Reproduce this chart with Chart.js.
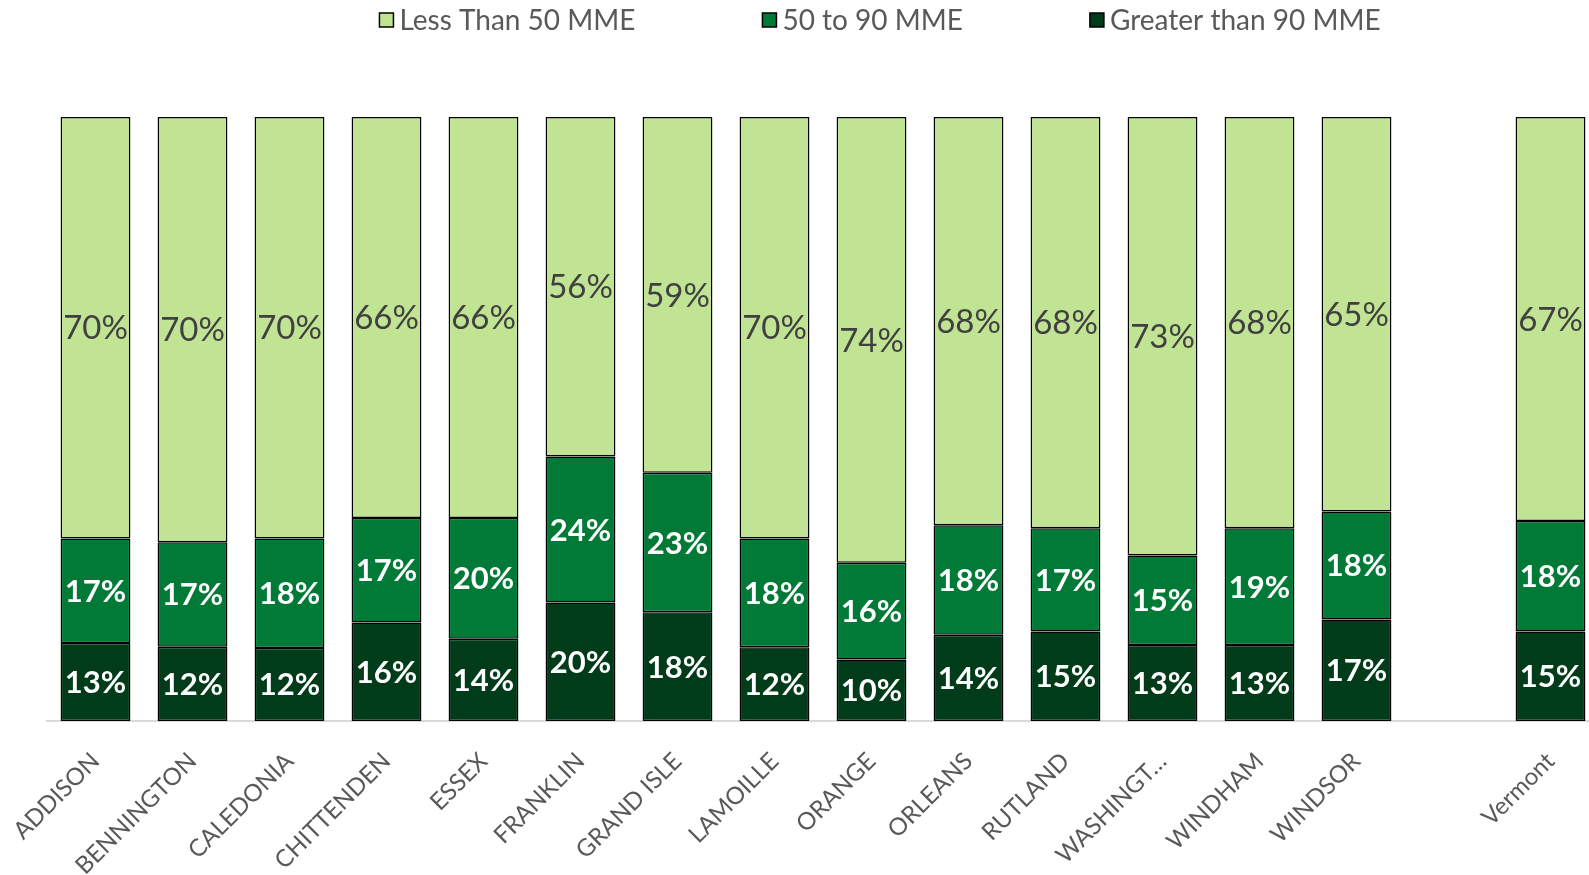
<!DOCTYPE html>
<html><head><meta charset="utf-8">
<script src="https://cdn.jsdelivr.net/npm/chart.js@4.4.1/dist/chart.umd.min.js"></script>
<style>html,body{margin:0;padding:0;background:#fff;overflow:hidden;} #wrap{width:1589px;height:875px;position:relative;}</style>
</head><body><div id="wrap"><canvas id="c"></canvas></div>
<script>
const categories = ['ADDISON','BENNINGTON','CALEDONIA','CHITTENDEN','ESSEX','FRANKLIN','GRAND ISLE','LAMOILLE','ORANGE','ORLEANS','RUTLAND','WASHINGT\u2026','WINDHAM','WINDSOR','','Vermont'];
const seriesNames = ['Greater than 90 MME','50 to 90 MME','Less Than 50 MME'];
const greaterThan90 = [12.9,12.3,12.1,16.3,13.6,19.6,18.0,12.2,10.2,14.3,14.8,12.6,12.6,16.8,null,14.8];
const from50to90    = [17.3,17.3,18.1,17.3,20.0,24.2,23.1,18.0,16.0,18.1,17.1,14.8,19.3,17.9,null,18.3];
const lessThan50    = [69.8,70.4,69.8,66.4,66.4,56.2,58.9,69.8,73.8,67.6,68.1,72.6,68.1,65.3,null,66.9];

const FONT = 'Lato, "DejaVu Sans", sans-serif';

// The plot area in the original runs slightly past the right edge of the image.
const extendRight = {
  id: 'extendRight',
  afterLayout(chart) {
    const s = chart.scales.x;
    s.right = chart.width + 10;
    s.width = s.right - s.left;
    s.configure();
  }
};

const labelPlugin = {
  id: 'segLabels',
  afterDatasetsDraw(chart) {
    const ctx = chart.ctx;
    chart.data.datasets.forEach((ds, i) => {
      const meta = chart.getDatasetMeta(i);
      meta.data.forEach((bar, j) => {
        const v = ds.data[j];
        if (v == null) return;
        const y = (bar.y + bar.base) / 2;
        ctx.save();
        ctx.font = ds.labelFont;
        ctx.fillStyle = ds.labelColor;
        ctx.textAlign = 'center';
        ctx.textBaseline = 'middle';
        ctx.fillText(Math.round(v) + '%', bar.x, y + 1);
        ctx.restore();
      });
    });
  }
};

const legendPlugin = {
  id: 'topLegend',
  afterDraw(chart) {
    const ctx = chart.ctx;
    const items = chart.data.datasets.slice().reverse();
    ctx.save();
    ctx.font = '28px ' + FONT;
    const box = 14, gap = 6, spacing = 127;
    const widths = items.map(d => box + gap + ctx.measureText(d.label).width);
    const total = widths.reduce((a, b) => a + b, 0) + spacing * (items.length - 1);
    let x = 880 - total / 2;
    const y = 20;
    items.forEach((d, k) => {
      ctx.fillStyle = d.backgroundColor;
      ctx.fillRect(x, y - box / 2, box, box);
      ctx.strokeStyle = '#000';
      ctx.lineWidth = 1.5;
      ctx.strokeRect(x, y - box / 2, box, box);
      ctx.fillStyle = '#595959';
      ctx.textAlign = 'left';
      ctx.textBaseline = 'middle';
      ctx.fillText(d.label, x + box + gap, y + 1);
      x += widths[k] + spacing;
    });
    ctx.restore();
  }
};

const colors = ['#003B1A', '#007A36', '#C1E394'];
const commonBar = { borderColor: '#000', borderWidth: 1.5, borderSkipped: false, barPercentage: 0.72, categoryPercentage: 1.0 };

new Chart(document.getElementById('c'), {
  type: 'bar',
  data: {
    labels: categories,
    datasets: [
      Object.assign({ label: seriesNames[0], data: greaterThan90, backgroundColor: colors[0], labelColor: '#ffffff', labelFont: 'bold 31px ' + FONT }, commonBar),
      Object.assign({ label: seriesNames[1], data: from50to90, backgroundColor: colors[1], labelColor: '#ffffff', labelFont: 'bold 31px ' + FONT }, commonBar),
      Object.assign({ label: seriesNames[2], data: lessThan50, backgroundColor: colors[2], labelColor: '#404040', labelFont: '33px ' + FONT }, commonBar)
    ]
  },
  options: {
    responsive: true,
    maintainAspectRatio: false,
    animation: false,
    layout: { padding: { top: 117, left: 47, right: 0, bottom: 0 } },
    plugins: { legend: { display: false }, tooltip: { enabled: false } },
    scales: {
      x: {
        stacked: true,
        grid: { display: false, drawTicks: false },
        border: { display: true, color: '#d9d9d9', width: 2 },
        ticks: { color: '#595959', font: { family: FONT, size: 24 }, minRotation: 45, maxRotation: 45, padding: 26, autoSkip: false },
        afterFit(scale) { scale.height = 154; scale.paddingLeft = 0; scale.paddingRight = 0; }
      },
      y: { stacked: true, display: false, min: 0, max: 100 }
    }
  },
  plugins: [extendRight, labelPlugin, legendPlugin]
});
</script>
</body></html>
